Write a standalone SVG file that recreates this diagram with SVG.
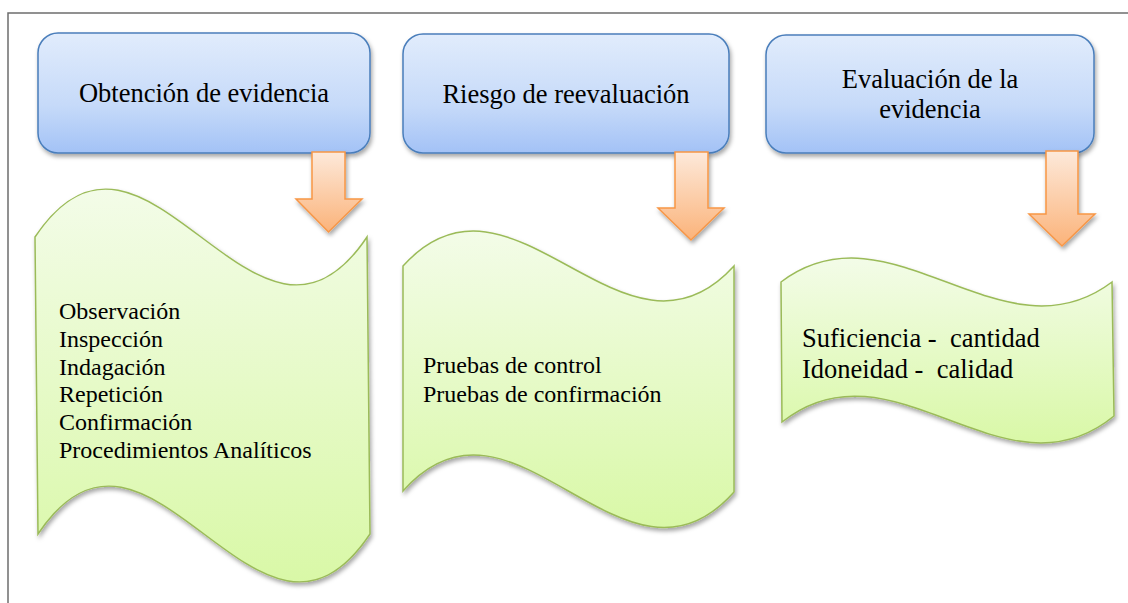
<svg xmlns="http://www.w3.org/2000/svg" width="1128" height="603" viewBox="0 0 1128 603">
<defs>
<linearGradient id="gBlue" x1="0" y1="0" x2="0" y2="1">
<stop offset="0" stop-color="#e1ecfc"/><stop offset="0.6" stop-color="#c6daf9"/><stop offset="1" stop-color="#a3c2f6"/>
</linearGradient>
<linearGradient id="gGreen" x1="0" y1="0" x2="0" y2="1">
<stop offset="0" stop-color="#f3fce8"/><stop offset="1" stop-color="#d9f8a7"/>
</linearGradient>
<linearGradient id="gOrange" x1="0" y1="0" x2="0" y2="1">
<stop offset="0" stop-color="#fde9da"/><stop offset="1" stop-color="#fbb37a"/>
</linearGradient>
<filter id="shadow" x="-10%" y="-10%" width="125%" height="130%">
<feDropShadow dx="1.5" dy="3" stdDeviation="2" flood-color="#000" flood-opacity="0.35"/>
</filter>
<style>
.box{fill:url(#gBlue);stroke:#4a7ebb;stroke-width:1.5;filter:url(#shadow)}
.wave{fill:url(#gGreen);stroke:#9bbb59;stroke-width:1.5;filter:url(#shadow)}
.arrow{fill:url(#gOrange);stroke:#f79646;stroke-width:1.5;filter:url(#shadow)}
.h{font-family:"Liberation Serif",serif;font-size:26.5px;fill:#000;text-anchor:middle}
.t{font-family:"Liberation Serif",serif;font-size:24px;fill:#000;white-space:pre}
.t2{font-family:"Liberation Serif",serif;font-size:26.5px;fill:#000;white-space:pre}
.frame{stroke:#6d6d6d;stroke-width:1.5;fill:none}
</style>
</defs>
<rect width="1128" height="603" fill="#fff"/>
<path class="frame" d="M8,603 L8,13 L1128,13"/>

<g id="box1">
<rect class="box" x="38" y="33" width="332" height="120" rx="20" ry="20"/>
<text class="h" x="204" y="102">Obtención de evidencia</text>
</g>
<g id="box2">
<rect class="box" x="403" y="34" width="326" height="119" rx="20" ry="20"/>
<text class="h" x="566" y="103">Riesgo de reevaluación</text>
</g>
<g id="box3">
<rect class="box" x="766" y="35" width="328" height="118" rx="20" ry="20"/>
<text class="h" x="930" y="88">Evaluación de la</text>
<text class="h" x="930" y="118">evidencia</text>
</g>

<g id="wave1">
<path class="wave" d="M35,237 C146,71 256,403 367,237 L370,534 C259,700 149,368 38,534 Z"/>
<text class="t" x="59" y="319">Observación</text>
<text class="t" x="59" y="347">Inspección</text>
<text class="t" x="59" y="375">Indagación</text>
<text class="t" x="59" y="402">Repetición</text>
<text class="t" x="59" y="430">Confirmación</text>
<text class="t" x="59" y="458">Procedimientos Analíticos</text>
</g>
<g id="wave2">
<path class="wave" d="M403,266 C513,145 624,387 734,266 L734,492 C624,616 513,366 403,491 Z"/>
<text class="t" x="423" y="373">Pruebas de control</text>
<text class="t" x="423" y="402">Pruebas de confirmación</text>
</g>
<g id="wave3">
<path class="wave" d="M781,282 C891,199 1002,365 1112,282 L1114,416 C1004,506 893,334 782,422 Z"/>
<text class="t2" x="802" y="347">Suficiencia -  cantidad</text>
<text class="t2" x="802" y="378">Idoneidad -  calidad</text>
</g>

<g id="connectors">
<path class="arrow" d="M312,152 L345,152 L345,199 L362,199 L328.5,232 L296,199 L312,199 Z"/>
<path class="arrow" d="M675,152 L708,152 L708,208 L724,208 L691,240 L658,208 L675,208 Z"/>
<path class="arrow" d="M1046,151 L1078,151 L1078,214 L1095,214 L1062,246 L1029,214 L1046,214 Z"/>
</g>
</svg>
